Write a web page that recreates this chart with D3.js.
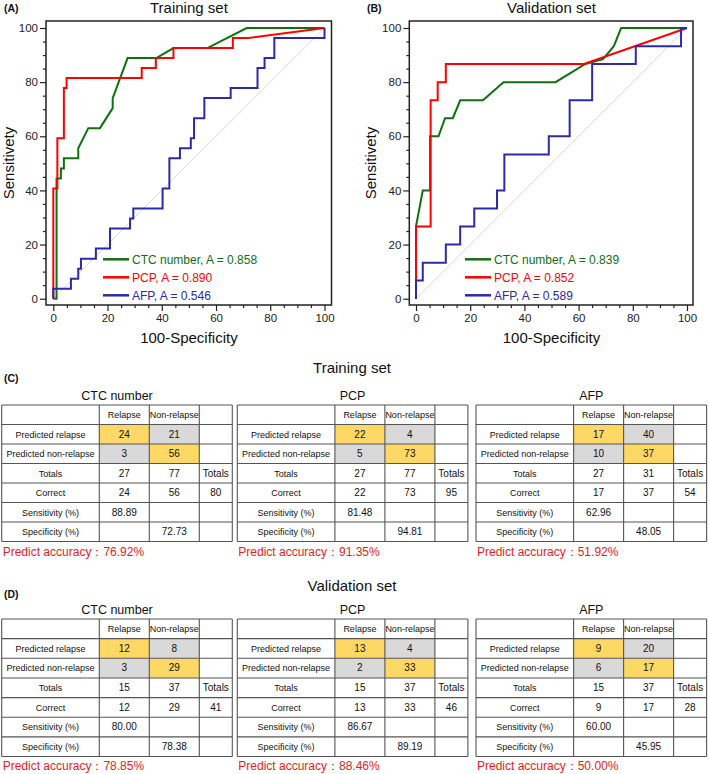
<!DOCTYPE html>
<html>
<head>
<meta charset="utf-8">
<script src="https://cdn.jsdelivr.net/npm/d3@7"></script>
<style>
  html, body { margin: 0; padding: 0; background: #fff; }
  svg { display: block; font-family: "Liberation Sans", Arial, sans-serif; }
</style>
</head>
<body>
<svg id="chart" width="709" height="774"></svg>
<script>
// ---------------- DATA ----------------
const markers = ["CTC number", "PCP", "AFP"];
const colors = ["#107010", "#ff0000", "#2b2ba8"];

const trainAUC = ["0.858", "0.890", "0.546"];
const valAUC = ["0.839", "0.852", "0.589"];

const trainCTC = [[0,0],[1.2,0],[1.2,44.4],[2.8,44.4],[2.8,48.1],[3.9,48.1],[3.9,51.9],[9.2,51.9],[9.2,55.6],[12.9,63],[17.2,63],[21.9,70.4],[21.9,74.1],[27.4,88.9],[38,88.9],[44.3,92.6],[56.8,92.6],[64,96.3],[71.3,100],[100,100]];
const trainPCP = [[0,0],[0,40.7],[1.5,40.7],[1.5,59.3],[3.9,59.3],[3.9,77.8],[4.9,77.8],[4.9,81.5],[32.6,81.5],[32.6,85.2],[37.8,85.2],[37.8,88.9],[44.3,88.9],[44.3,92.6],[66.2,92.6],[66.2,96.3],[72,96.3],[100,100]];
const trainAFP = [[0,0],[0,3.7],[6.5,3.7],[6.5,7.4],[9.2,7.4],[9.2,11.1],[10.2,11.1],[10.2,14.8],[15.7,14.8],[15.7,18.5],[20.9,18.5],[20.9,25.9],[28.3,25.9],[28.3,29.6],[29.5,29.6],[29.5,33.3],[40.3,33.3],[40.3,40.7],[42.8,40.7],[42.8,51.9],[46.7,51.9],[46.7,55.6],[50.7,55.6],[50.7,59.3],[51.9,59.3],[51.9,66.7],[55.7,66.7],[55.7,74.1],[65.4,74.1],[65.4,77.8],[75.3,77.8],[75.3,85.2],[77.9,85.2],[77.9,88.9],[81.5,88.9],[81.5,96.3],[100,96.3],[100,100]];

const valCTC = [[0,0],[0,26.7],[2.5,40],[5.2,40],[5.2,60],[8.3,60],[10.7,66.7],[13.6,66.7],[16.3,73.3],[24.7,73.3],[32.3,80],[51.5,80],[62.5,86.7],[69,88.5],[73,93.3],[75.7,100],[100,100]];
const valPCP = [[0,0],[0,26.7],[5.4,26.7],[5.4,73.3],[8,73.3],[8,80],[11,80],[11,86.7],[62,86.7],[100,100]];
const valAFP = [[0,0],[0,6.7],[2.5,6.7],[2.5,13.3],[11,13.3],[11,20],[16.3,20],[16.3,26.7],[21.5,26.7],[21.5,33.3],[29.9,33.3],[29.9,40],[32.6,40],[32.6,53.3],[49,53.3],[49,60],[56.7,60],[56.7,73.3],[65,73.3],[65,86.7],[81.1,86.7],[81.1,93.3],[97.8,93.3],[97.8,100],[100,100]];

const majorTicks = [0, 20, 40, 60, 80, 100];

// confusion tables: [TP, FP, FN, TN, totRelapse, totNon, correctRel, correctNon, correctTot, sens, spec, accuracy]
const colHeaders = ["", "Relapse", "Non-relapse", ""];
const rowLabels = ["Predicted relapse", "Predicted non-relapse", "Totals", "Correct", "Sensitivity (%)", "Specificity (%)"];
const trainCTCTable = ["24", "21", "3", "56", "27", "77", "24", "56", "80", "88.89", "72.73", "76.92%"];
const trainPCPTable = ["22", "4", "5", "73", "27", "77", "22", "73", "95", "81.48", "94.81", "91.35%"];
const trainAFPTable = ["17", "40", "10", "37", "27", "31", "17", "37", "54", "62.96", "48.05", "51.92%"];
const valCTCTable = ["12", "8", "3", "29", "15", "37", "12", "29", "41", "80.00", "78.38", "78.85%"];
const valPCPTable = ["13", "4", "2", "33", "15", "37", "13", "33", "46", "86.67", "89.19", "88.46%"];
const valAFPTable = ["9", "20", "6", "17", "15", "37", "9", "17", "28", "60.00", "45.95", "50.00%"];

// ---------------- DRAW ----------------
const svg = d3.select("#chart");
const FONT = "'Liberation Sans', Arial, sans-serif";

function rocPanel(opt) {
  const x = d3.scaleLinear().domain([0, 100]).range([opt.x0, opt.x1]);
  const y = d3.scaleLinear().domain([0, 100]).range([298.7, 28]);
  const g = svg.append("g");
  const fl = opt.frameL, fr = opt.frameR, ft = 21, fb = 305;

  // diagonal
  g.append("line").attr("x1", x(0)).attr("y1", y(0)).attr("x2", x(100)).attr("y2", y(100))
    .attr("stroke", "#d8d8d8").attr("stroke-width", 1);

  // axes: minor ticks
  const minor = d3.range(0, 101, 5).filter(v => v % 20 !== 0);
  const xAxisMinor = d3.axisBottom(x).tickValues(minor).tickSize(3).tickFormat("");
  const yAxisMinor = d3.axisLeft(y).tickValues(minor).tickSize(3).tickFormat("");
  const xAxis = d3.axisBottom(x).tickValues(majorTicks).tickSize(6).tickPadding(3).tickFormat(d3.format("d"));
  const yAxis = d3.axisLeft(y).tickValues(majorTicks).tickSize(6).tickPadding(2).tickFormat(d3.format("d"));

  const gx = g.append("g").attr("transform", `translate(0,${fb})`);
  gx.call(xAxis); gx.append("g").call(xAxisMinor);
  const gy = g.append("g").attr("transform", `translate(${fl},0)`);
  gy.call(yAxis); gy.append("g").call(yAxisMinor);
  g.selectAll(".domain").remove();
  g.selectAll(".tick line").attr("stroke", "#222").attr("stroke-width", 1.2);
  g.selectAll(".tick text").attr("font-family", FONT).attr("font-size", 11.5).attr("fill", "#222");

  // curves
  const line = d3.line().x(d => x(d[0])).y(d => y(d[1]));
  opt.curves.forEach((c, i) => {
    g.append("path").datum(c).attr("d", line).attr("fill", "none")
      .attr("stroke", colors[i]).attr("stroke-width", 2).attr("stroke-linejoin", "miter");
  });

  // frame
  g.append("rect").attr("x", fl).attr("y", ft).attr("width", fr - fl).attr("height", fb - ft)
    .attr("fill", "none").attr("stroke", "#222").attr("stroke-width", 1.5);

  // legend
  markers.forEach((m, i) => {
    const ly = 259.3 + i * 18;
    g.append("line").attr("x1", opt.legX).attr("x2", opt.legX + 26).attr("y1", ly).attr("y2", ly)
      .attr("stroke", colors[i]).attr("stroke-width", 2.5);
    g.append("text").attr("x", opt.legX + 29).attr("y", ly + 4.3).attr("font-size", 12)
      .attr("font-family", FONT).attr("fill", colors[i]).text(`${m}, A = ${opt.auc[i]}`);
  });

  // titles / labels
  g.append("text").attr("x", (x(0) + x(100)) / 2).attr("y", 13).attr("text-anchor", "middle")
    .attr("font-size", 15).attr("font-family", FONT).attr("fill", "#111").text(opt.title);
  g.append("text").attr("x", opt.tagX).attr("y", 12).attr("font-size", 10.5).attr("font-weight", "bold")
    .attr("font-family", FONT).attr("fill", "#111").text(opt.tag);
  g.append("text").attr("x", (x(0) + x(100)) / 2).attr("y", 343).attr("text-anchor", "middle")
    .attr("font-size", 15).attr("font-family", FONT).attr("fill", "#111").text("100-Specificity");
  g.append("text").attr("transform", `translate(${opt.ylabX},163) rotate(-90)`).attr("text-anchor", "middle")
    .attr("font-size", 15).attr("font-family", FONT).attr("fill", "#111").text("Sensitivety");
}

rocPanel({ x0: 53.3, x1: 324.5, frameL: 46, frameR: 331.5, curves: [trainCTC, trainPCP, trainAFP],
  auc: trainAUC, title: "Training set", tag: "(A)", tagX: 4, legX: 103, ylabX: 14 });
rocPanel({ x0: 416, x1: 687, frameL: 409.3, frameR: 693, curves: [valCTC, valPCP, valAFP],
  auc: valAUC, title: "Validation set", tag: "(B)", tagX: 367, legX: 465, ylabX: 376 });

// ---------------- TABLES ----------------
const colW = [97.6, 50, 50, 33];
const yellow = "#fdd865", grey = "#d9d9d9";

function confTable(left, top, rowH, title, d, accY) {
  const g = svg.append("g");
  const xs = [left];
  colW.forEach(w => xs.push(xs[xs.length - 1] + w));
  const cx = i => (xs[i] + xs[i + 1]) / 2;
  const rows = [
    colHeaders,
    [rowLabels[0], d[0], d[1], ""],
    [rowLabels[1], d[2], d[3], ""],
    [rowLabels[2], d[4], d[5], "Totals"],
    [rowLabels[3], d[6], d[7], d[8]],
    [rowLabels[4], d[9], "", ""],
    [rowLabels[5], "", d[10], ""]
  ];
  const fills = { "1-1": yellow, "1-2": grey, "2-1": grey, "2-2": yellow };
  rows.forEach((r, ri) => {
    r.forEach((txt, ci) => {
      const f = fills[`${ri}-${ci}`];
      if (f) g.append("rect").attr("x", xs[ci]).attr("y", top + ri * rowH).attr("width", colW[ci]).attr("height", rowH).attr("fill", f);
      if (txt !== "") {
        const small = ri === 0 || ri === 1 || ri === 2 || ri >= 4 ? 9 : 9.5;
        g.append("text").attr("x", cx(ci)).attr("y", top + ri * rowH + rowH / 2 + 3.3)
          .attr("text-anchor", "middle").attr("font-size", ci === 0 || ri === 0 ? 9 : 10)
          .attr("font-family", FONT).attr("fill", "#111").text(txt);
      }
    });
  });
  // grid
  for (let ri = 0; ri <= rows.length; ri++) {
    g.append("line").attr("x1", xs[0]).attr("x2", xs[4]).attr("y1", top + ri * rowH).attr("y2", top + ri * rowH)
      .attr("stroke", "#555").attr("stroke-width", 1.1);
  }
  xs.forEach(xv => g.append("line").attr("x1", xv).attr("x2", xv).attr("y1", top).attr("y2", top + rows.length * rowH)
    .attr("stroke", "#555").attr("stroke-width", 1.1));
  // title
  g.append("text").attr("x", (xs[0] + xs[4]) / 2).attr("y", top - 5).attr("text-anchor", "middle")
    .attr("font-size", 12.5).attr("font-family", FONT).attr("fill", "#111").text(title);
  // accuracy
  g.append("text").attr("x", left + 1).attr("y", accY).attr("font-size", 12).attr("font-family", FONT)
    .attr("fill", "#e41e1e").text("Predict accuracy：" + d[11]);
}

const tableLefts = [1.7, 237.3, 476];
const trainTables = [trainCTCTable, trainPCPTable, trainAFPTable];
const valTables = [valCTCTable, valPCPTable, valAFPTable];

svg.append("text").attr("x", 4).attr("y", 382).attr("font-size", 10.5).attr("font-weight", "bold")
  .attr("font-family", FONT).attr("fill", "#111").text("(C)");
svg.append("text").attr("x", 352).attr("y", 372.5).attr("text-anchor", "middle").attr("font-size", 15)
  .attr("font-family", FONT).attr("fill", "#111").text("Training set");
trainTables.forEach((t, i) => confTable(tableLefts[i], 405, 19.5, markers[i], t, 556));

svg.append("text").attr("x", 4).attr("y", 598).attr("font-size", 10.5).attr("font-weight", "bold")
  .attr("font-family", FONT).attr("fill", "#111").text("(D)");
svg.append("text").attr("x", 352).attr("y", 591).attr("text-anchor", "middle").attr("font-size", 15)
  .attr("font-family", FONT).attr("fill", "#111").text("Validation set");
valTables.forEach((t, i) => confTable(tableLefts[i], 619, 19.65, markers[i], t, 769.5));
</script>
</body>
</html>
